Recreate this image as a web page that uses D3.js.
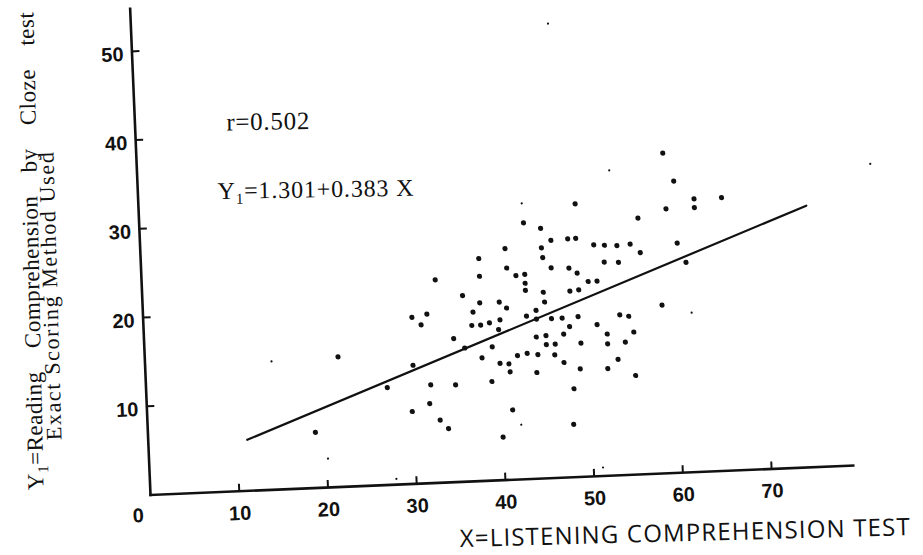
<!DOCTYPE HTML>
<html>
<head>
    <meta charset='utf-8'>
    <title>Listening vs Reading Comprehension</title>
    <script src='https://d3js.org/d3.v7.min.js'></script>
    <style>
        body { margin: 0; background: #fff; }

        .axis path,
        .axis line {
            fill: none;
            stroke: #111;
        }

        .axis path { stroke-width: 2.6px; }
        .axis line { stroke-width: 2px; }

        .axis text {
            font: bold 20px 'Liberation Sans', Arial, sans-serif;
            fill: #111;
        }

        .dot { fill: #111; }

        .fit {
            fill: none;
            stroke: #111;
            stroke-width: 2.2px;
            stroke-linecap: round;
        }

        .serif {
            font-family: 'Liberation Serif', 'Times New Roman', serif;
            fill: #111;
        }

        .xtitle {
            font-family: 'Open Sans', 'DejaVu Sans', sans-serif;
            fill: #111;
        }
    </style>
</head>
<body>
    <svg width='923' height='555' id='scatter'></svg>
    <script>
        // X = listening comprehension score, Y = reading (cloze) score
        const listening = [
            49.2, 43.3, 45.2, 46.3, 48.2, 49.1, 51.1, 41.1, 45.2, 45.3,
            38.1, 41.2, 46.2, 48.2, 49.1, 38.1, 42.2, 43.2, 43.2, 43.2,
            33.1, 50.3, 51.3, 45.2, 48.2, 49.2, 36.1, 45.3, 38.0, 40.2,
            41.0, 37.2, 44.3, 30.3, 32.0, 31.3, 37.0, 38.0, 39.0, 40.2,
            43.2, 44.3, 46.0, 47.2, 49.0, 51.1, 48.0, 40.0, 34.9, 44.2,
            45.3, 47.3, 39.2, 36.1, 45.3, 46.3, 49.2, 21.8, 38.0, 42.0,
            43.1, 44.3, 46.2, 30.2, 40.0, 41.0, 41.1, 44.1, 47.2, 49.0,
            39.0, 32.1, 34.9, 27.2, 48.2, 31.9, 29.9, 41.2, 33.0, 33.9,
            48.0, 18.9, 40.0, 59.3, 60.4, 62.6, 65.7, 59.4, 62.6, 56.2,
            52.3, 53.7, 55.2, 56.3, 60.5, 52.2, 53.8, 61.4, 53.7, 54.7,
            52.2, 55.2, 58.5, 52.2, 54.2, 53.3, 52.1, 55.2
        ];
        const reading = [
            30.7, 28.8, 28.1, 26.7, 26.8, 26.8, 26.0, 26.0, 25.9, 24.8,
            25.0, 23.8, 23.6, 23.5, 22.9, 23.0, 22.9, 23.0, 22.0, 21.2,
            22.8, 21.9, 21.9, 20.9, 20.9, 21.0, 20.9, 19.8, 20.0, 20.0,
            19.3, 19.0, 18.9, 18.7, 19.0, 17.8, 17.5, 17.5, 17.7, 18.0,
            18.3, 17.9, 17.9, 17.9, 18.0, 17.0, 16.9, 16.9, 16.1, 15.9,
            16.0, 16.1, 15.0, 15.0, 15.0, 15.0, 15.0, 14.6, 13.8, 13.9,
            14.1, 13.9, 13.8, 13.3, 13.1, 13.0, 12.1, 11.9, 12.9, 12.1,
            11.1, 11.0, 10.9, 10.9, 9.9, 8.9, 8.1, 7.8, 7.0, 6.0,
            5.9, 6.2, 4.8, 36.0, 32.8, 30.7, 30.7, 29.7, 29.7, 28.8,
            25.9, 25.8, 25.9, 24.9, 25.8, 24.0, 23.9, 23.6, 18.0, 17.8,
            15.9, 16.0, 18.9, 14.8, 14.9, 13.0, 12.0, 11.1
        ];

        // faint small marks in the figure
        const speckX = [43.2, 42.1, 20.2, 53.2, 61.8, 51.1, 14.3, 27.8, 82.6, 47.0];
        const speckY = [31.0, 6.1, 3.2, 34.3, 17.9, 0.9, 14.4, 0.6, 33.8, 51.1];

        // ends of the drawn regression line
        const fitX = [11.2, 75.2];
        const fitY = [5.7, 29.4];

        const xTicks = [0, 10, 20, 30, 40, 50, 60, 70];
        const yTicks = [10, 20, 30, 40, 50];

        const rLabel = 'r=0.502';
        const yTitle1 = 'Reading Comprehension by Cloze test';
        const yTitle2 = 'Exact Scoring Method Used';
        const xTitle = 'X=LISTENING COMPREHENSION TEST';

        function renderScatter(svg_id) {
            var svg = d3.select(`svg#${svg_id}`);
            var unit = 8.88;

            var x = d3.scaleLinear().domain([0, 79.2]).range([0, 79.2 * unit]);
            var y = d3.scaleLinear().domain([0, 54.8]).range([0, -54.8 * unit]);

            // the scanned figure is slightly tilted
            var g = svg.append('g')
                .attr('transform', 'translate(150,494.5) rotate(-2.4)');

            var xAxis = g.append('g')
                .attr('class', 'axis')
                .call(d3.axisBottom(x).tickValues(xTicks).tickSize(-7).tickSizeOuter(0).tickPadding(15));

            xAxis.selectAll('.tick')
                .filter(function(d) { return d === 0; })
                .call(function(t) {
                    t.select('line').remove();
                    t.select('text').attr('x', -13).attr('y', 13);
                });

            var yAxis = g.append('g')
                .attr('class', 'axis')
                .call(d3.axisLeft(y).tickValues(yTicks).tickSize(-8).tickSizeOuter(0).tickPadding(8));

            yAxis.selectAll('.tick text').attr('y', 3);
            xAxis.select('.domain').attr('stroke-linecap', 'square');
            yAxis.select('.domain').attr('stroke-linecap', 'square');

            var line = d3.line()
                .x(function(d) { return x(d[0]); })
                .y(function(d) { return y(d[1]); });

            g.append('path')
                .datum(d3.zip(fitX, fitY))
                .attr('class', 'fit')
                .attr('d', line);

            g.selectAll('.dot')
                .data(d3.zip(listening, reading))
                .join('circle')
                .attr('class', 'dot')
                .attr('cx', function(d) { return x(d[0]); })
                .attr('cy', function(d) { return y(d[1]); })
                .attr('r', 2.6);

            g.selectAll('.speck')
                .data(d3.zip(speckX, speckY))
                .join('circle')
                .attr('class', 'dot speck')
                .attr('cx', function(d) { return x(d[0]); })
                .attr('cy', function(d) { return y(d[1]); })
                .attr('r', 1.1);

            // annotations
            var notes = svg.append('g').attr('transform', 'rotate(-1, 220, 160)');

            notes.append('text')
                .attr('class', 'serif')
                .attr('x', 227)
                .attr('y', 130.5)
                .attr('font-size', 25)
                .attr('textLength', 83)
                .attr('lengthAdjust', 'spacing')
                .text(rLabel);

            var eq = notes.append('text')
                .attr('class', 'serif')
                .attr('x', 217)
                .attr('y', 199)
                .attr('font-size', 24)
                .attr('textLength', 196)
                .attr('lengthAdjust', 'spacing');
            eq.append('tspan').text('Y');
            eq.append('tspan').attr('font-size', 15).attr('dy', 5).text('1');
            eq.append('tspan').attr('dy', -5).text('=1.301+0.383 X');

            // y title, two lines
            var yt1 = svg.append('text')
                .attr('class', 'serif')
                .attr('transform', 'translate(43.5,490) rotate(-91.2)')
                .attr('font-size', 23)
                .attr('word-spacing', 17)
                .attr('textLength', 478)
                .attr('lengthAdjust', 'spacing');
            yt1.append('tspan').text('Y');
            yt1.append('tspan').attr('font-size', 15).attr('dy', 5).text('1');
            yt1.append('tspan').attr('dy', -5).text('=' + yTitle1);

            svg.append('text')
                .attr('class', 'serif')
                .attr('transform', 'translate(61.5,440) rotate(-91.6)')
                .attr('font-size', 22)
                .attr('textLength', 288)
                .attr('lengthAdjust', 'spacing')
                .text(yTitle2);

            svg.append('text')
                .attr('class', 'xtitle')
                .attr('transform', 'translate(460,547) rotate(-1.5)')
                .attr('font-size', 24)
                .attr('textLength', 450)
                .attr('lengthAdjust', 'spacing')
                .text(xTitle);
        }

        renderScatter('scatter');
    </script>
</body>
</html>
